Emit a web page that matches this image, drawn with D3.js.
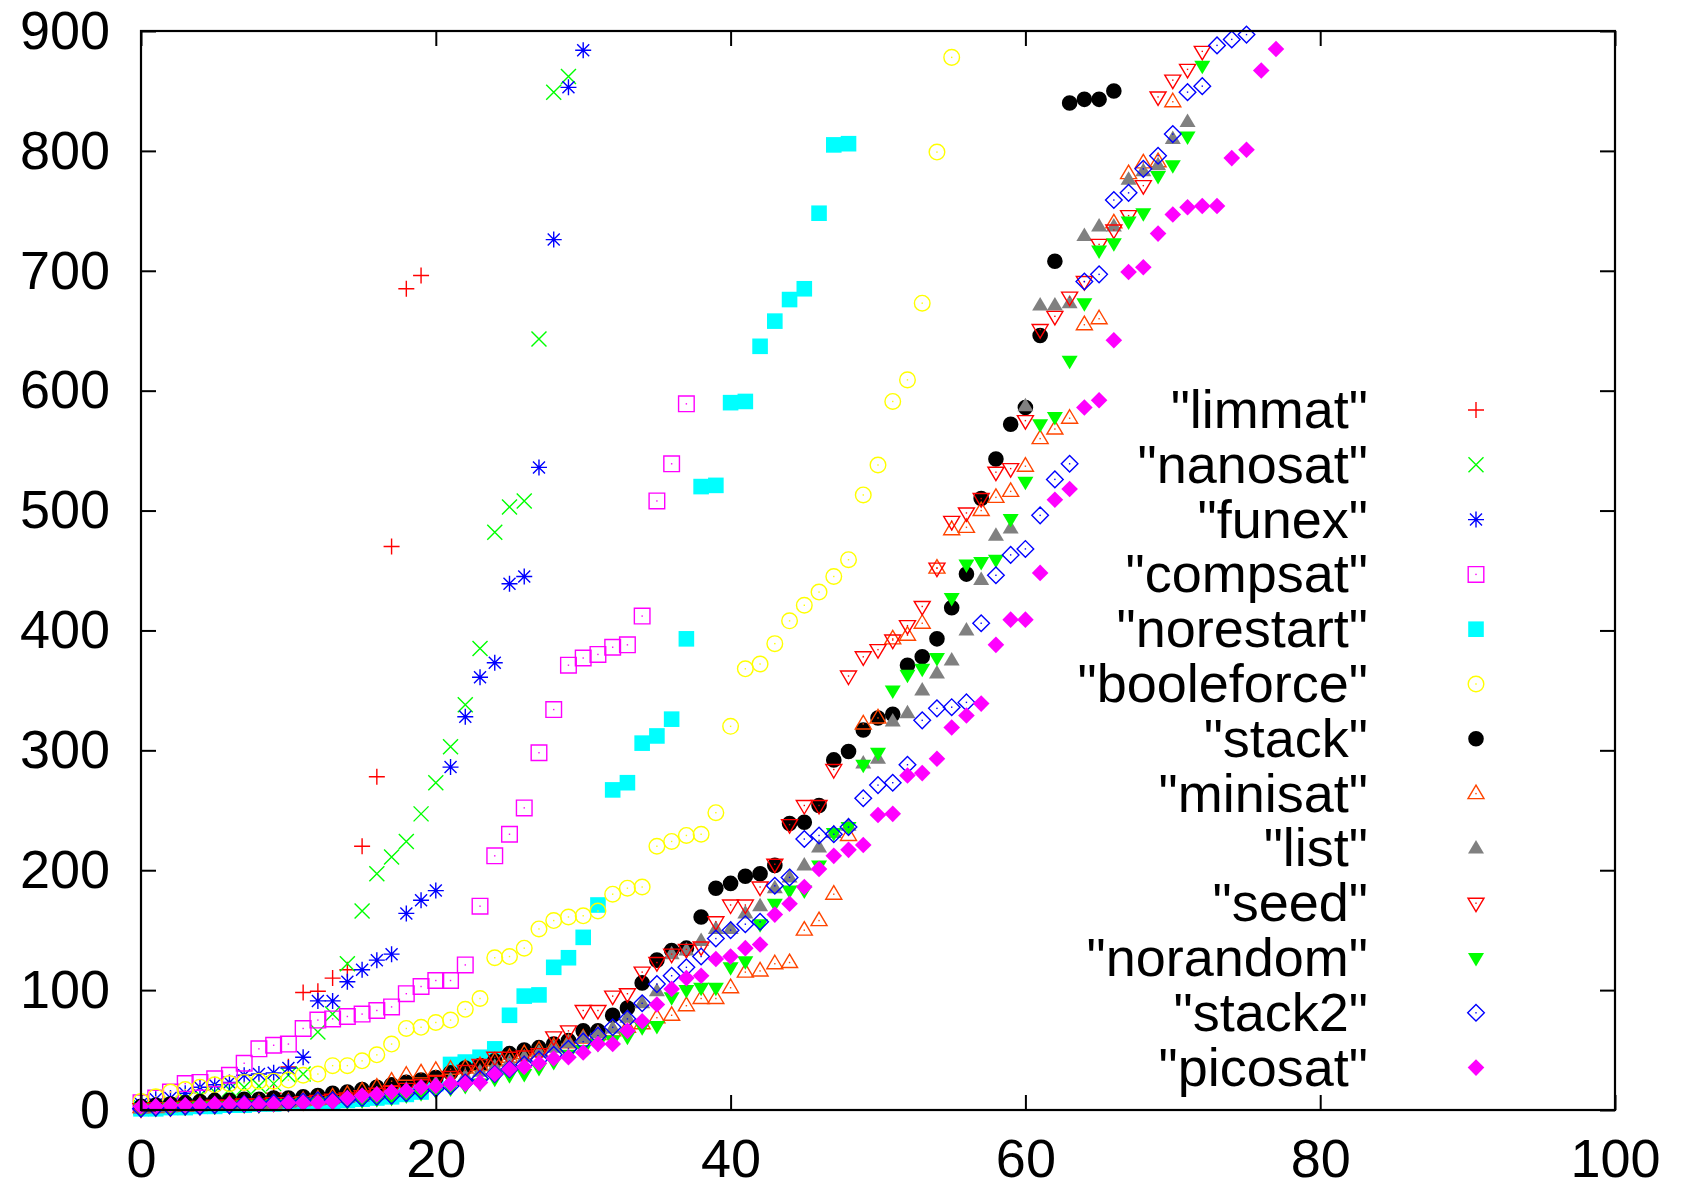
<!DOCTYPE html>
<html>
<head>
<meta charset="utf-8">
<title>Solver comparison</title>
<script src="https://cdn.jsdelivr.net/npm/d3@7"></script>
<style>
  body { margin: 0; background: #fff; }
  svg { display: block; font-family: "Liberation Sans", Arial, sans-serif; }
</style>
</head>
<body>
<svg id="chart" width="1689" height="1189"></svg>
<script>
// axis ticks
const xTicks = [0, 20, 40, 60, 80, 100];
const yTicks = [0, 100, 200, 300, 400, 500, 600, 700, 800, 900];

// series values, x is the index (0, 1, 2, ...)
const limmat = [1,1,2,2,3,3,4,5,6,14,36,98,99,110,117,220,278,470,685,696];
const nanosat = [2,4,6,9,12,15,17,19,20,22,29,30,65,80,122,166,197,211,224,247,273,303,338,385,482,503,508,643,849,862];
const funex = [5,9,10,14,19,21,23,29,30,31,35,44,91,91,107,117,125,130,164,175,183,286,328,361,373,439,445,536,726,853,884];
const compsat = [6,10,15,22,23,26,29,39,51,54,55,68,75,76,78,80,83,86,97,103,108,108,121,170,212,230,252,298,334,371,377,380,386,388,412,508,539,589];
const norestart = [1,1,2,2,3,3,4,4,5,5,6,6,7,7,8,9,10,11,13,15,22,38,40,44,51,79,95,96,119,127,144,171,267,273,306,312,326,393,520,521,590,591,637,658,676,685,748,805,806];
const booleforce = [7,11,15,17,19,21,22,23,24,24,25,29,30,37,37,41,46,55,68,69,73,75,84,93,127,128,135,151,158,161,162,166,180,185,186,220,224,229,230,248,320,368,372,389,408,421,432,445,459,513,538,591,609,673,799,878];
const stack = [3,4,5,6,7,8,8,9,9,10,10,11,12,14,15,17,19,21,23,25,27,31,35,37,41,47,50,52,55,58,66,66,79,85,106,125,133,135,161,185,189,195,197,204,239,240,254,292,299,317,327,330,371,378,393,419,447,510,543,572,586,646,708,840,843,843,850];
const minisat = [2,2,3,3,4,4,5,5,6,6,7,8,9,11,13,16,19,24,29,31,33,34,35,37,41,44,47,50,53,56,60,63,66,69,72,77,79,87,93,93,102,115,116,122,123,150,158,180,229,322,327,393,396,406,452,484,486,500,511,516,537,560,568,577,655,660,740,781,790,791,841];
const list = [1,2,2,3,3,4,4,5,5,6,6,7,8,9,10,11,13,15,17,19,22,25,28,32,36,40,44,48,52,56,60,64,68,77,89,99,130,133,141,151,151,164,170,185,194,204,219,231,237,289,293,324,331,350,364,375,400,442,479,485,587,671,671,673,729,737,737,776,783,788,810,824];
const seed = [1,2,2,3,3,4,4,5,5,6,6,7,8,9,10,12,14,16,18,21,24,28,33,38,44,44,45,47,61,66,83,83,95,97,115,123,130,134,136,157,171,171,186,205,238,254,254,284,362,378,384,392,404,420,452,491,498,510,532,535,575,651,662,678,691,722,734,746,771,845,859,868,883];
const norandom = [1,1,2,2,3,3,3,4,4,5,5,6,6,7,7,8,9,10,12,14,16,18,20,22,26,29,30,35,40,46,50,55,58,61,69,70,94,100,102,102,119,124,155,172,183,183,204,231,236,288,298,350,363,368,377,427,455,457,459,493,524,572,578,625,673,717,723,741,748,779,788,812,871];
const stack2 = [1,2,2,3,3,4,4,5,5,6,6,7,8,8,9,10,11,12,14,16,18,20,23,26,30,34,38,42,46,51,57,62,69,76,89,105,112,119,128,143,150,155,157,187,194,226,229,230,236,260,271,273,288,325,335,336,340,406,446,463,468,496,526,539,691,697,759,765,785,796,814,849,854,888,893,897];
const picosat = [3,3,4,4,4,5,5,5,5,5,6,6,6,7,10,12,13,15,16,19,20,22,22,23,30,34,36,39,43,44,48,55,55,66,74,88,101,110,112,126,128,135,138,163,172,186,201,212,217,221,246,247,279,281,293,319,329,339,388,409,409,448,509,518,586,592,642,699,703,731,747,753,754,754,794,801,867,885];

const seriesNames = ["limmat", "nanosat", "funex", "compsat", "norestart", "booleforce",
  "stack", "minisat", "list", "seed", "norandom", "stack2", "picosat"];
const seriesValues = [limmat, nanosat, funex, compsat, norestart, booleforce,
  stack, minisat, list, seed, norandom, stack2, picosat];

// marker look for each series (gnuplot point types)
const markerStyle = {
  limmat:     { shape: "plus",    color: "#ff0000", filled: false, dot: false },
  nanosat:    { shape: "cross",   color: "#00ff00", filled: false, dot: false },
  funex:      { shape: "star",    color: "#0000ff", filled: false, dot: false },
  compsat:    { shape: "square",  color: "#ff00ff", filled: false, dot: true },
  norestart:  { shape: "square",  color: "#00ffff", filled: true,  dot: false },
  booleforce: { shape: "circle",  color: "#ffff00", filled: false, dot: true },
  stack:      { shape: "circle",  color: "#000000", filled: true,  dot: false },
  minisat:    { shape: "up",      color: "#ff4500", filled: false, dot: true },
  list:       { shape: "up",      color: "#808080", filled: true,  dot: false },
  seed:       { shape: "down",    color: "#ff0000", filled: false, dot: true },
  norandom:   { shape: "down",    color: "#00ff00", filled: true,  dot: false },
  stack2:     { shape: "diamond", color: "#0000ff", filled: false, dot: true },
  picosat:    { shape: "diamond", color: "#ff00ff", filled: true,  dot: false }
};

function shapePath(shape) {
  switch (shape) {
    case "plus":    return "M-8,0H8M0,-8V8";
    case "cross":   return "M-7.5,-7.5L7.5,7.5M-7.5,7.5L7.5,-7.5";
    case "star":    return "M-8,0H8M0,-8V8M-6,-6L6,6M-6,6L6,-6";
    case "square":  return "M-7.8,-7.8H7.8V7.8H-7.8Z";
    case "circle":  return "M7.8,0A7.8,7.8 0 1,1 -7.8,0A7.8,7.8 0 1,1 7.8,0Z";
    case "up":      return "M0,-8.5L8,5L-8,5Z";
    case "down":    return "M0,8.5L8,-5L-8,-5Z";
    case "diamond": return "M0,-8.3L8.3,0L0,8.3L-8.3,0Z";
  }
}

const plotLeft = 141, plotRight = 1615, plotTop = 31, plotBottom = 1110;

const x = d3.scaleLinear().domain([0, 100]).range([plotLeft, plotRight]);
const y = d3.scaleLinear().domain([0, 900]).range([plotBottom, plotTop]);

const svg = d3.select("#chart");
svg.append("rect").attr("width", 1689).attr("height", 1189).attr("fill", "#fff");

function drawMarker(sel, name) {
  const st = markerStyle[name];
  sel.append("path")
    .attr("d", shapePath(st.shape))
    .attr("fill", st.filled ? st.color : "none")
    .attr("stroke", st.filled ? "none" : st.color)
    .attr("stroke-width", 1.4);
  if (st.dot) {
    sel.append("rect")
      .attr("x", -0.7).attr("y", -0.7)
      .attr("width", 1.4).attr("height", 1.4)
      .attr("fill", st.color);
  }
}

// points
seriesNames.forEach((name, k) => {
  const g = svg.append("g").attr("class", "series-" + name);
  g.selectAll("g")
    .data(seriesValues[k])
    .join("g")
    .attr("transform", (d, i) => `translate(${x(i)},${y(d)})`)
    .each(function () { drawMarker(d3.select(this), name); });
});

// axes: ticks point inward on all four sides
const tickLen = 15;
const axisFont = 54;

const bottomAxis = svg.append("g")
  .attr("transform", `translate(0,${plotBottom})`)
  .call(d3.axisBottom(x).tickValues(xTicks).tickSize(-tickLen).tickPadding(28.5).tickFormat(d3.format("d")));
const leftAxis = svg.append("g")
  .attr("transform", `translate(${plotLeft},0)`)
  .call(d3.axisLeft(y).tickValues(yTicks).tickSize(-tickLen).tickPadding(31).tickFormat(d3.format("d")));
const topAxis = svg.append("g")
  .attr("transform", `translate(0,${plotTop})`)
  .call(d3.axisTop(x).tickValues(xTicks).tickSize(-tickLen).tickFormat(""));
const rightAxis = svg.append("g")
  .attr("transform", `translate(${plotRight},0)`)
  .call(d3.axisRight(y).tickValues(yTicks).tickSize(-tickLen).tickFormat(""));

[bottomAxis, leftAxis, topAxis, rightAxis].forEach(a => {
  a.select(".domain").remove();
  a.selectAll(".tick line").attr("stroke", "#000").attr("stroke-width", 2);
  a.selectAll("text")
    .attr("fill", "#000")
    .style("font-size", axisFont + "px")
    .style("font-family", "'Liberation Sans', Arial, sans-serif");
});

// frame
svg.append("rect")
  .attr("x", plotLeft).attr("y", plotTop)
  .attr("width", plotRight - plotLeft).attr("height", plotBottom - plotTop)
  .attr("fill", "none")
  .attr("stroke", "#000")
  .attr("stroke-width", 2.2);

// legend
const legendTop = 410, legendStep = 54.8;
const legend = svg.append("g");
seriesNames.forEach((name, k) => {
  const ly = legendTop + k * legendStep;
  legend.append("text")
    .attr("x", 1368)
    .attr("y", ly + 18)
    .attr("text-anchor", "end")
    .style("font-size", "54px")
    .attr("fill", "#000")
    .text('"' + name + '"');
  const m = legend.append("g").attr("transform", `translate(1476,${ly})`);
  drawMarker(m, name);
});
</script>
</body>
</html>
